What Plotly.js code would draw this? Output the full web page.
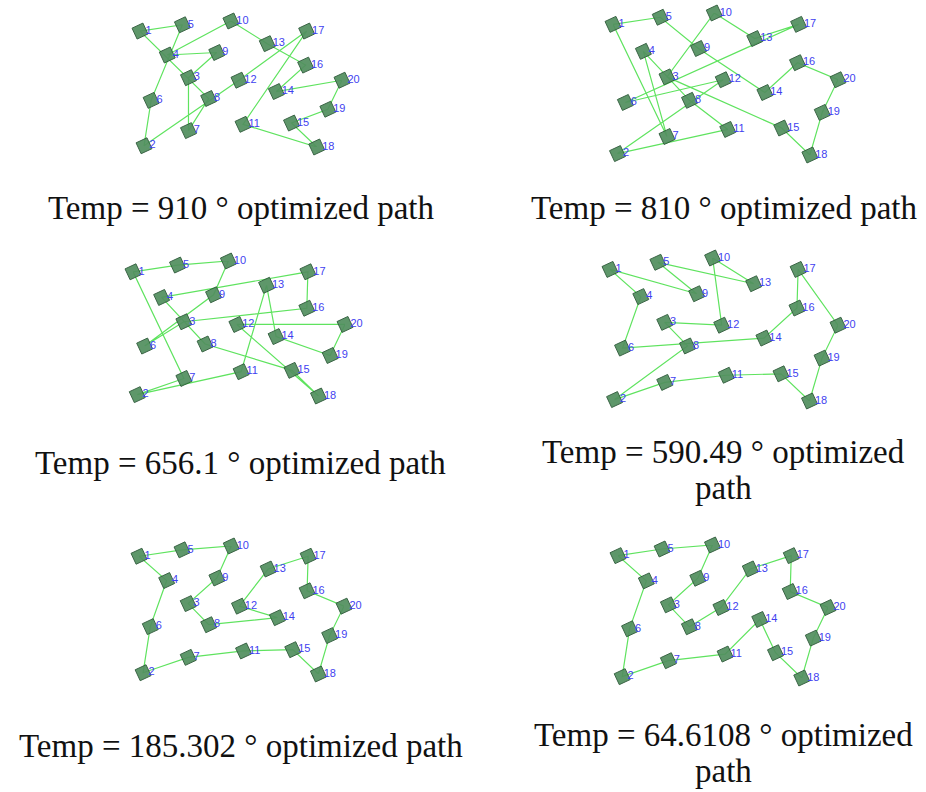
<!DOCTYPE html>
<html>
<head>
<meta charset="utf-8">
<script src="https://cdn.plot.ly/plotly-3.0.1.min.js"></script>
<style>html,body{margin:0;padding:0;background:#fff;}#chart{width:926px;height:792px;}</style>
</head>
<body>
<div id="chart"></div>
<script>
// ---- data ----
const cityIds = [1,2,3,4,5,6,7,8,9,10,11,12,13,14,15,16,17,18,19,20];
const cityX = [0, 2, 24, 13.5, 21, 5.5, 24, 34, 38, 45, 51, 49, 63, 67.5, 75, 82, 82.5, 87.5, 93, 100];
const cityY = [92, 1, 55, 73, 97, 37, 13, 38.5, 75, 100, 18, 53, 82, 44, 19, 65, 92, 0, 30, 53];

const temps = ['910', '810', '656.1', '590.49', '185.302', '64.6108'];

const tour910    = [1,5,6,2,12,17,11,18,15,19,20,14,16,13,10,4,9,3,7,8,1];
const tour810    = [1,5,9,14,16,20,19,18,15,3,10,13,17,6,12,2,11,8,4,7,1];
const tour656    = [1,5,10,9,6,3,16,17,4,8,15,18,12,20,19,14,13,11,2,7,1];
const tour590    = [1,4,6,14,16,17,20,19,18,15,11,7,2,8,3,12,10,13,5,9,1];
const tour185    = [1,5,10,9,3,8,14,12,13,17,16,20,19,18,15,11,7,2,6,4,1];
const tour64     = [1,5,10,9,3,8,12,13,17,16,20,19,18,15,14,11,7,2,6,4,1];
const tours = [tour910, tour810, tour656, tour590, tour185, tour64];

const titleLine1 = ['Temp = 910 ° optimized path', 'Temp = 810 ° optimized path',
                    'Temp = 656.1 ° optimized path', 'Temp = 590.49 ° optimized',
                    'Temp = 185.302 ° optimized path', 'Temp = 64.6108 ° optimized'];
const titleLine2 = ['', '', '', 'path', '', 'path'];

// ---- layout (pixel boxes of each panel: x0, x1, yTop, yBottom) ----
const W = 926, H = 792;
const boxes = [
  [140, 342, 21, 147],
  [613, 838, 13, 155],
  [133, 345, 261, 396],
  [610, 838, 258, 401],
  [139, 344, 546, 674],
  [618, 828, 545, 678]
];
const titlePos = [  // centre x, middle y of first line
  [242, 208], [724, 208],
  [240, 463], [723, 452],
  [241, 746], [723, 735]
];
const lineGap = 36;

const traces = [];
const layout = {
  width: W, height: H,
  margin: {l: 0, r: 0, t: 0, b: 0},
  paper_bgcolor: '#ffffff', plot_bgcolor: 'rgba(0,0,0,0)',
  showlegend: false,
  annotations: []
};

tours.forEach((tour, i) => {
  const n = i + 1;
  const xa = 'x' + (n === 1 ? '' : n), ya = 'y' + (n === 1 ? '' : n);
  const b = boxes[i];
  const axX = {domain: [b[0] / W, b[1] / W], range: [0, 100], visible: false, fixedrange: true};
  const axY = {domain: [1 - b[3] / H, 1 - b[2] / H], range: [0, 100], visible: false, fixedrange: true};
  layout['xaxis' + (n === 1 ? '' : n)] = Object.assign({anchor: ya}, axX);
  layout['yaxis' + (n === 1 ? '' : n)] = Object.assign({anchor: xa}, axY);

  traces.push({
    type: 'scatter', mode: 'lines', xaxis: xa, yaxis: ya,
    x: tour.map(c => cityX[c - 1]), y: tour.map(c => cityY[c - 1]),
    line: {color: '#5fe35f', width: 1.2}, hoverinfo: 'skip'
  });
  traces.push({
    type: 'scatter', mode: 'markers', xaxis: xa, yaxis: ya, cliponaxis: false,
    x: cityX, y: cityY,
    marker: {symbol: 'square', size: 12, angle: -25, color: '#52905f', opacity: 0.93,
             line: {color: '#2d5a39', width: 1}},
    hoverinfo: 'skip'
  });
  traces.push({
    type: 'scatter', mode: 'markers+text', xaxis: xa, yaxis: ya, cliponaxis: false,
    x: cityX, y: cityY, text: cityIds.map(String),
    marker: {size: 7, color: 'rgba(0,0,0,0)'},
    textposition: 'middle right',
    textfont: {family: 'Liberation Sans, Arial, sans-serif', size: 11, color: '#3f3ff0'},
    hoverinfo: 'skip'
  });

  const tp = titlePos[i];
  layout.annotations.push({
    xref: 'paper', yref: 'paper', x: tp[0] / W, y: 1 - tp[1] / H,
    xanchor: 'center', yanchor: 'middle', showarrow: false,
    text: titleLine1[i],
    font: {family: 'Liberation Serif, Times New Roman, serif', size: 33, color: '#111111'}
  });
  if (titleLine2[i]) {
    layout.annotations.push({
      xref: 'paper', yref: 'paper', x: tp[0] / W, y: 1 - (tp[1] + lineGap) / H,
      xanchor: 'center', yanchor: 'middle', showarrow: false,
      text: titleLine2[i],
      font: {family: 'Liberation Serif, Times New Roman, serif', size: 33, color: '#111111'}
    });
  }
});

Plotly.newPlot('chart', traces, layout, {staticPlot: true, displayModeBar: false});
</script>
</body>
</html>
